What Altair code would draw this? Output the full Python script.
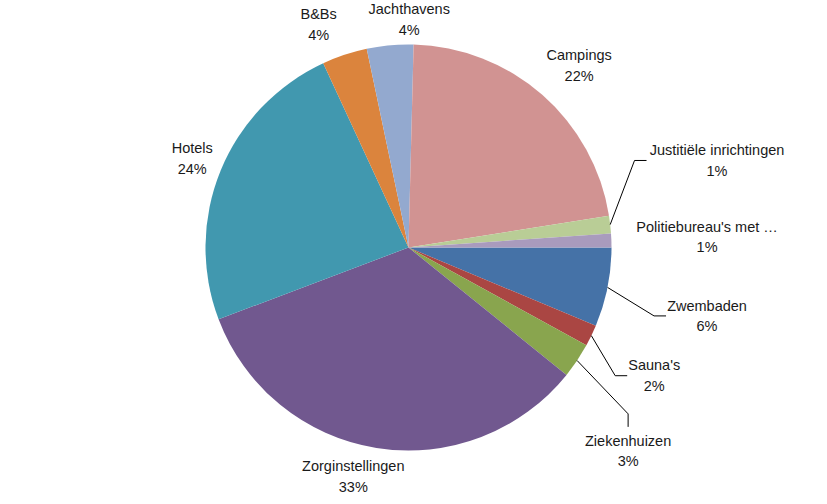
import math
import pandas as pd
import altair as alt

# ---- data ----
categories = ["Zwembaden", "Sauna's", "Ziekenhuizen", "Zorginstellingen", "Hotels",
              "B&Bs", "Jachthavens", "Campings", "Justitiële inrichtingen",
              "Politiebureau's met …"]
values = [6.3, 1.7, 2.8, 33.45, 23.85, 3.6, 3.7, 22.1, 1.4, 1.1]
colors = ["#4572A7", "#AA4643", "#89A54E", "#71588F", "#4198AF",
          "#DB843D", "#93A9CF", "#D19392", "#B9CD96", "#A99BBD"]

# ---- layout (not data): label radius, angular nudge (deg), leader style ----
CX, CY, R = 408.5, 247.5, 203
LINE_H = 20.5
LAYOUT = {
    "Zwembaden": (306.5, 1.75, "h", 39),
    "Sauna's": (277.6, 2.0, "h", 25),
    "Ziekenhuizen": (300.0, 9.1, "v", 0),
    "Zorginstellingen": (236.6, 4.4, None, 0),
    "Hotels": (233.5, -0.1, None, 0),
    "B&Bs": (239.3, -3.7, None, 0),
    "Jachthavens": (227.0, 5.4, None, 0),
    "Campings": (248.7, 2.1, None, 0),
    "Justitiële inrichtingen": (320.3, -9.1, "h", 68.5),
    "Politiebureau's met …": (298.7, 0.2, None, 0),
}

df = pd.DataFrame({"name": categories, "value": values, "idx": list(range(len(values)))})

total = sum(values)
cum = 0.0
label_rows, line_rows = [], []
for name, v in zip(categories, values):
    a0 = cum / total * 360
    cum += v
    a1 = cum / total * 360
    mid = (a0 + a1) / 2
    lr, nudge, style, hw = LAYOUT[name]
    ang = math.radians(mid + nudge)
    lx = CX + lr * math.cos(ang)
    ly = CY + lr * math.sin(ang)
    label_rows.append({"name": name, "value": v, "lx": lx, "ly": ly})
    if style:
        m = math.radians(mid)
        sx, sy = CX + R * math.cos(m), CY + R * math.sin(m)
        if style == "h":
            ex, ey = lx - hw - 2, ly - 1
            bx, by = ex - 12, ey
        else:
            ex, ey = lx, ly - 25
            bx, by = lx, ly - 38
        for s, (px, py) in enumerate([(sx, sy), (bx, by), (ex, ey)]):
            line_rows.append({"name": name, "seq": s, "px": px, "py": py})

labels = pd.DataFrame(label_rows)
lines = pd.DataFrame(line_rows)

pie = alt.Chart(df).mark_arc(radius=R).encode(
    theta=alt.Theta("value:Q", stack=True,
                    scale=alt.Scale(range=[math.pi / 2, math.pi / 2 + 2 * math.pi])),
    color=alt.Color("name:N", scale=alt.Scale(domain=categories, range=colors), legend=None),
    order=alt.Order("idx:Q"),
    x=alt.value(CX),
    y=alt.value(CY),
)

leaders = alt.Chart(lines).mark_line(color="#000000", strokeWidth=1).encode(
    x=alt.X("px:Q", scale=None, axis=None),
    y=alt.Y("py:Q", scale=None, axis=None),
    detail="name:N",
    order="seq:Q",
)

text = alt.Chart(labels).transform_calculate(
    pct="format(datum.value, '.0f') + '%'"
).transform_calculate(
    txt="[datum.name, datum.pct]"
).mark_text(
    font="Liberation Sans", fontSize=14.5, lineHeight=LINE_H,
    align="center", baseline="middle", color="#1a1a1a", dy=-LINE_H / 2
).encode(
    x=alt.X("lx:Q", scale=None, axis=None),
    y=alt.Y("ly:Q", scale=None, axis=None),
    text="txt:N",
)

chart = alt.layer(pie, leaders, text).properties(
    width=827, height=504, autosize="none", padding=0, background="white"
).configure_view(stroke=None)

chart.save("out.html", embed_options={"renderer": "svg", "actions": False})
